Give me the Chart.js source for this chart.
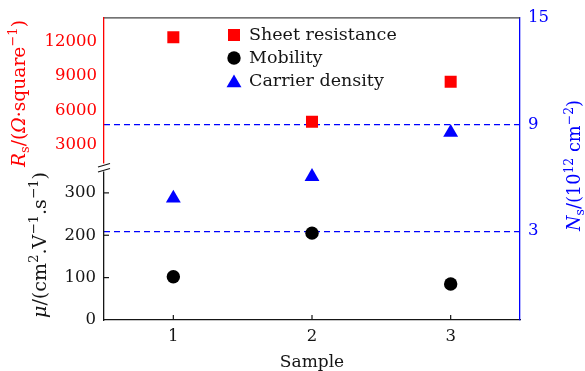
<!DOCTYPE html>
<html><head><meta charset="utf-8">
<script src="https://cdn.jsdelivr.net/npm/chart.js@4/dist/chart.umd.min.js"></script>
<style>html,body{margin:0;padding:0;background:#fff;overflow:hidden}canvas{display:block}</style>
</head><body>
<canvas id="c" width="585" height="371"></canvas>
<script>
// ---- data ----
const samples = ['1', '2', '3'];
const sheetResistance = [12400, 5000, 8500];   // Ω/square (left, upper part)
const mobility = [102, 205, 85];               // cm²/(V·s) (left, lower part)
const carrierDensity = [4.85, 6.07, 8.55];     // 10^12 cm^-2 (right)
const rsTicks = [3000, 6000, 9000, 12000];
const muTicks = [0, 100, 200, 300];
const nsTicks = [3, 9, 15];
const seriesNames = ['Sheet resistance', 'Mobility', 'Carrier density'];
const xTitle = 'Sample';

const FONT = '"DejaVu Serif", "Liberation Serif", serif';
const RED = '#ff0000', BLUE = '#0000ff', BLACK = '#151515';

function drawRich(ctx, segs, bx, sy, length, color, baseSize) {
  ctx.save();
  const measure = (size) => {
    let tot = 0;
    const items = segs.map(s => {
      const small = s.sup || s.sub;
      const fs = small ? size * 0.7 : size;
      const font = (s.i ? 'italic ' : '') + fs.toFixed(2) + 'px ' + FONT;
      ctx.font = font;
      const w = ctx.measureText(s.t).width;
      tot += w;
      return {t: s.t, font, w, dy: s.sup ? -size * 0.42 : (s.sub ? size * 0.22 : 0)};
    });
    return {items, tot};
  };
  let m = measure(baseSize);
  let size = baseSize;
  if (length) {
    size = Math.max(13, Math.min(20, baseSize * length / m.tot));
    m = measure(size);
  }
  ctx.translate(bx, sy);
  ctx.rotate(-Math.PI / 2);
  ctx.fillStyle = color;
  ctx.textBaseline = 'alphabetic';
  ctx.textAlign = 'left';
  let x = 0;
  for (const it of m.items) {
    ctx.font = it.font;
    ctx.fillText(it.t, x, it.dy);
    x += it.w;
  }
  ctx.restore();
}

function drawMarker(ctx, style, r, x, y, color) {
  ctx.save();
  ctx.fillStyle = color;
  ctx.beginPath();
  if (style === 'rect') {
    const s = Math.SQRT1_2 * r;
    ctx.rect(x - s, y - s, 2 * s, 2 * s);
  } else if (style === 'triangle') {
    ctx.moveTo(x, y - r);
    ctx.lineTo(x + Math.sin(2 * Math.PI / 3) * r, y - Math.cos(2 * Math.PI / 3) * r);
    ctx.lineTo(x + Math.sin(4 * Math.PI / 3) * r, y - Math.cos(4 * Math.PI / 3) * r);
    ctx.closePath();
  } else {
    ctx.arc(x, y, r, 0, Math.PI * 2);
  }
  ctx.fill();
  ctx.restore();
}

const decor = {
  id: 'decor',
  afterDraw(chart) {
    const ctx = chart.ctx;
    const a = chart.chartArea;
    const sx = chart.scales.x, sMu = chart.scales.yMu, sRs = chart.scales.yRs;
    ctx.save();
    // top frame line
    ctx.strokeStyle = '#444';
    ctx.lineWidth = 1.3;
    ctx.beginPath(); ctx.moveTo(a.left, a.top); ctx.lineTo(a.right, a.top); ctx.stroke();
    // inward ticks
    ctx.strokeStyle = BLACK; ctx.lineWidth = 1.2;
    samples.forEach((s, i) => {
      const px = sx.getPixelForTick(i);
      ctx.beginPath(); ctx.moveTo(px, a.bottom); ctx.lineTo(px, a.bottom - 5); ctx.stroke();
    });
    muTicks.forEach(v => {
      if (v === 0) return;
      const py = sMu.getPixelForValue(v);
      ctx.beginPath(); ctx.moveTo(a.left, py); ctx.lineTo(a.left + 5, py); ctx.stroke();
    });
    // axis break
    const yb = sRs.bottom;
    ctx.fillStyle = '#fff';
    ctx.fillRect(a.left - 3, yb - 4, 6, 8);
    ctx.strokeStyle = BLACK; ctx.lineWidth = 1.2;
    ctx.beginPath(); ctx.moveTo(a.left - 6, yb - 0.5); ctx.lineTo(a.left + 6, yb - 4); ctx.stroke();
    ctx.beginPath(); ctx.moveTo(a.left - 6, yb + 4.5); ctx.lineTo(a.left + 6, yb + 1); ctx.stroke();
    ctx.restore();

    // axis titles
    drawRich(ctx, [{t: 'R', i: 1}, {t: 's', sub: 1}, {t: '/('}, {t: 'Ω', i: 1}, {t: '·square'}, {t: '−1', sup: 1}, {t: ')'}],
      25, 167, 147, RED, 16);
    drawRich(ctx, [{t: 'μ', i: 1}, {t: '/(cm'}, {t: '2', sup: 1}, {t: '.V'}, {t: '−1', sup: 1}, {t: '.s'}, {t: '−1', sup: 1}, {t: ')'}],
      46, 318, 146, BLACK, 16);
    drawRich(ctx, [{t: 'N', i: 1}, {t: 's', sub: 1}, {t: '/(10'}, {t: '12', sup: 1}, {t: ' cm'}, {t: '−2', sup: 1}, {t: ')'}],
      580, 231, 131, BLUE, 16);
    ctx.save();
    ctx.font = '17px ' + FONT;
    ctx.fillStyle = BLACK;
    ctx.textAlign = 'center';
    ctx.textBaseline = 'alphabetic';
    ctx.fillText(xTitle, (a.left + a.right) / 2, 367);
    ctx.restore();

    // legend
    ctx.save();
    ctx.font = '17.5px ' + FONT;
    ctx.textBaseline = 'middle';
    ctx.textAlign = 'left';
    chart.data.datasets.forEach((ds, i) => {
      const y = 35 + i * 23;
      drawMarker(ctx, ds.pointStyle, ds.pointRadius, 234, y + (ds.pointStyle === 'triangle' ? 2 : 0), ds.backgroundColor);
      ctx.fillStyle = BLACK;
      ctx.fillText(ds.label, 249, y);
    });
    ctx.restore();
  }
};

const tickFont = {family: FONT, size: 16.5};
const plain = v => String(v);

new Chart(document.getElementById('c'), {
  type: 'line',
  data: {
    labels: samples,
    datasets: [
      {label: seriesNames[0], data: sheetResistance, yAxisID: 'yRs', showLine: false,
       pointStyle: 'rect', pointRadius: 8.5, backgroundColor: RED, borderColor: RED, borderWidth: 0, pointBorderWidth: 0},
      {label: seriesNames[1], data: mobility, yAxisID: 'yMu', showLine: false,
       pointStyle: 'circle', pointRadius: 6.7, backgroundColor: '#000', borderColor: '#000', borderWidth: 0, pointBorderWidth: 0},
      {label: seriesNames[2], data: carrierDensity, yAxisID: 'yNs', showLine: false,
       pointStyle: 'triangle', pointRadius: 8.6, backgroundColor: BLUE, borderColor: BLUE, borderWidth: 0, pointBorderWidth: 0}
    ]
  },
  options: {
    responsive: false,
    animation: false,
    devicePixelRatio: 1,
    layout: {padding: {top: 17, left: 0, right: 0, bottom: 0}},
    plugins: {legend: {display: false}, tooltip: {enabled: false}},
    scales: {
      x: {
        type: 'category', offset: true, position: 'bottom',
        afterFit: s => { s.height = 51; },
        grid: {display: false, drawTicks: false},
        border: {display: true, color: BLACK, width: 1.3},
        ticks: {color: BLACK, font: tickFont, padding: 7, maxRotation: 0}
      },
      yMu: {
        type: 'linear', position: 'left', stack: 'left', stackWeight: 153, weight: 1,
        min: 0, max: 360,
        afterBuildTicks: s => { s.ticks = muTicks.map(v => ({value: v})); },
        afterFit: s => { s.width = 104; },
        grid: {display: false, drawTicks: false},
        border: {display: true, color: BLACK, width: 1.3},
        ticks: {color: BLACK, font: tickFont, padding: 8, callback: plain}
      },
      yRs: {
        type: 'linear', position: 'left', stack: 'left', stackWeight: 150, weight: 2,
        min: 1000, max: 14100,
        afterBuildTicks: s => { s.ticks = rsTicks.map(v => ({value: v})); },
        afterFit: s => { s.width = 104; },
        grid: {display: false, drawTicks: false},
        border: {display: true, color: RED, width: 1.3},
        ticks: {color: RED, font: tickFont, padding: 7, callback: plain}
      },
      yNs: {
        type: 'linear', position: 'right',
        min: -2, max: 15,
        afterBuildTicks: s => { s.ticks = nsTicks.map(v => ({value: v})); },
        afterFit: s => { s.width = 65; },
        grid: {display: true, drawTicks: false, lineWidth: 1.2,
               color: c => (c.tick && c.tick.value === 15) ? 'rgba(0,0,0,0)' : BLUE},
        border: {display: true, color: BLUE, width: 1.3, dash: [6, 4]},
        ticks: {color: BLUE, font: tickFont, padding: 8, callback: plain}
      }
    }
  },
  plugins: [decor]
});
</script>
</body></html>
